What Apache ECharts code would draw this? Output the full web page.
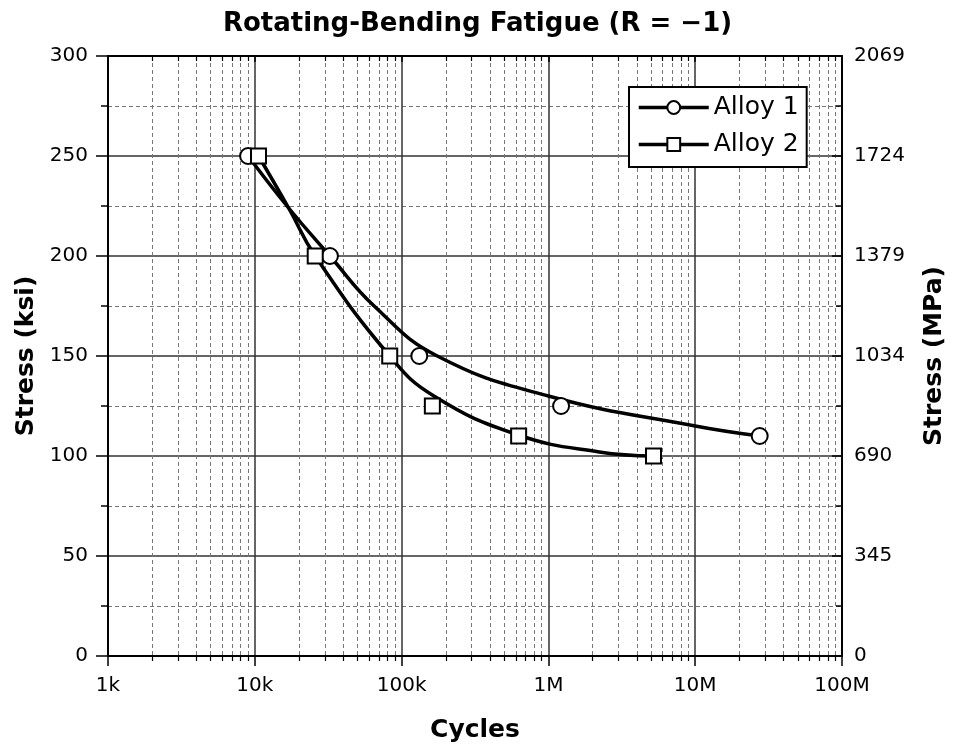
<!DOCTYPE html>
<html>
<head>
<meta charset="utf-8">
<script src="https://cdn.jsdelivr.net/npm/echarts@6/dist/echarts.min.js"></script>
<style>html,body{margin:0;padding:0;background:#fff;}#chart{width:955px;height:749px;}</style>
</head>
<body>
<div id="chart"></div>
<script>
// ---- data (cycles, stress ksi) ----
var alloy1Points = [[9000, 250], [32500, 200], [132000, 150], [1220000, 125], [27500000, 110]];
var alloy2Points = [[10600, 250], [25800, 200], [83000, 150], [162000, 125], [627000, 110], [5200000, 100]];
// fitted curves as traced on the picture
var alloy1Curve = [[9000, 250], [17000, 224], [32500, 200], [65000, 175], [175000, 150], [1000000, 130], [10000000, 115], [27500000, 110]];
var alloy2Curve = [[10600, 250], [17000, 224], [25800, 200], [83000, 150], [166000, 130], [624000, 110.5], [2220000, 102], [5200000, 100]];
var xTickLabels = ['1k', '10k', '100k', '1M', '10M', '100M'];
var mpaTickLabels = ['0', '345', '690', '1034', '1379', '1724', '2069'];
var seriesNames = ['Alloy 1', 'Alloy 2'];

var FONT = 'DejaVu Sans';
var chart = echarts.init(document.getElementById('chart'), null, {renderer: 'canvas'});
var solidGrid = {show: true, lineStyle: {color: '#333', width: 1.5, type: 'solid'}};
var dashGrid = {show: true, lineStyle: {color: '#777', width: 1, type: [4, 3]}};
var axisLine = {show: true, onZero: false, lineStyle: {color: '#000', width: 2}};

var option = {
  animation: false,
  backgroundColor: '#fff',
  title: {
    text: 'Rotating-Bending Fatigue (R = \u22121)',
    left: 'center', top: 6,
    textStyle: {fontFamily: FONT, fontWeight: 'bold', fontSize: 26, color: '#000'}
  },
  grid: {left: 108, right: 109, top: 56, bottom: 93, containLabel: false},
  legend: {
    data: seriesNames,
    orient: 'vertical',
    left: 629, top: 87,
    itemWidth: 70, itemHeight: 16, itemGap: 12,
    padding: [8, 8, 10, 8],
    borderColor: '#000', borderWidth: 2, backgroundColor: '#fff',
    lineStyle: {width: 3.5, color: '#000'},
    textStyle: {fontFamily: FONT, fontSize: 25, color: '#000'}
  },
  xAxis: [{
    type: 'log', logBase: 10, min: 1000, max: 100000000, position: 'bottom',
    name: 'Cycles', nameLocation: 'middle', nameGap: 62,
    nameTextStyle: {fontFamily: FONT, fontWeight: 'bold', fontSize: 25, color: '#000'},
    axisLine: axisLine,
    axisTick: {show: true, inside: false, length: 10, lineStyle: {color: '#000', width: 1.5}},
    minorTick: {show: true, splitNumber: 9, length: 5, lineStyle: {color: '#000', width: 1.2}},
    splitLine: solidGrid,
    minorSplitLine: dashGrid,
    axisLabel: {
      fontFamily: FONT, fontSize: 20, color: '#000', margin: 20,
      formatter: function (v) { return xTickLabels[Math.round(Math.log10(v)) - 3]; }
    }
  }, {
    type: 'log', logBase: 10, min: 1000, max: 100000000, position: 'top',
    axisLine: axisLine,
    axisTick: {show: true, inside: true, length: 6, lineStyle: {color: '#000', width: 1.5}},
    minorTick: {show: true, splitNumber: 9, length: 5, lineStyle: {color: '#000', width: 1.2}},
    splitLine: {show: false}, minorSplitLine: {show: false},
    axisLabel: {show: false}
  }],
  yAxis: [{
    type: 'value', min: 0, max: 300, interval: 50, position: 'left',
    name: 'Stress (ksi)', nameLocation: 'middle', nameGap: 67, nameRotate: 90,
    nameTextStyle: {fontFamily: FONT, fontWeight: 'bold', fontSize: 25, color: '#000'},
    axisLine: axisLine,
    axisTick: {show: true, inside: false, length: 12, lineStyle: {color: '#000', width: 1.5}},
    minorTick: {show: true, splitNumber: 2, length: 7, lineStyle: {color: '#000', width: 1.5}},
    splitLine: solidGrid,
    minorSplitLine: dashGrid,
    axisLabel: {fontFamily: FONT, fontSize: 20, color: '#000', margin: 20}
  }, {
    type: 'value', min: 0, max: 300, interval: 50, position: 'right',
    name: 'Stress (MPa)', nameLocation: 'middle', nameGap: 80, nameRotate: 90,
    nameTextStyle: {fontFamily: FONT, fontWeight: 'bold', fontSize: 25, color: '#000'},
    axisLine: axisLine,
    axisTick: {show: true, inside: true, length: 10, lineStyle: {color: '#000', width: 1.5}},
    minorTick: {show: true, splitNumber: 2, length: 6, lineStyle: {color: '#000', width: 1.5}},
    splitLine: {show: false}, minorSplitLine: {show: false},
    axisLabel: {
      fontFamily: FONT, fontSize: 20, color: '#000', margin: 12,
      formatter: function (v) { return mpaTickLabels[Math.round(v / 50)]; }
    }
  }],
  series: [{
    name: seriesNames[0], type: 'line', data: alloy1Curve,
    smooth: 0.45,
    symbol: 'emptyCircle', showSymbol: false, symbolSize: 14,
    lineStyle: {color: '#000', width: 3.5}, itemStyle: {color: '#000'},
    z: 3
  }, {
    name: seriesNames[1], type: 'line', data: alloy2Curve,
    smooth: 0.45,
    symbol: 'emptyRect', showSymbol: false, symbolSize: 14,
    lineStyle: {color: '#000', width: 3.5}, itemStyle: {color: '#000'},
    z: 3
  }, {
    name: 'Alloy 1 points', type: 'scatter', data: alloy1Points,
    symbol: 'circle', symbolSize: 16,
    itemStyle: {color: '#fff', borderColor: '#000', borderWidth: 2, opacity: 1},
    z: 5
  }, {
    name: 'Alloy 2 points', type: 'scatter', data: alloy2Points,
    symbol: 'rect', symbolSize: 15,
    itemStyle: {color: '#fff', borderColor: '#000', borderWidth: 2, opacity: 1},
    z: 5
  }]
};
chart.setOption(option);
</script>
</body>
</html>
